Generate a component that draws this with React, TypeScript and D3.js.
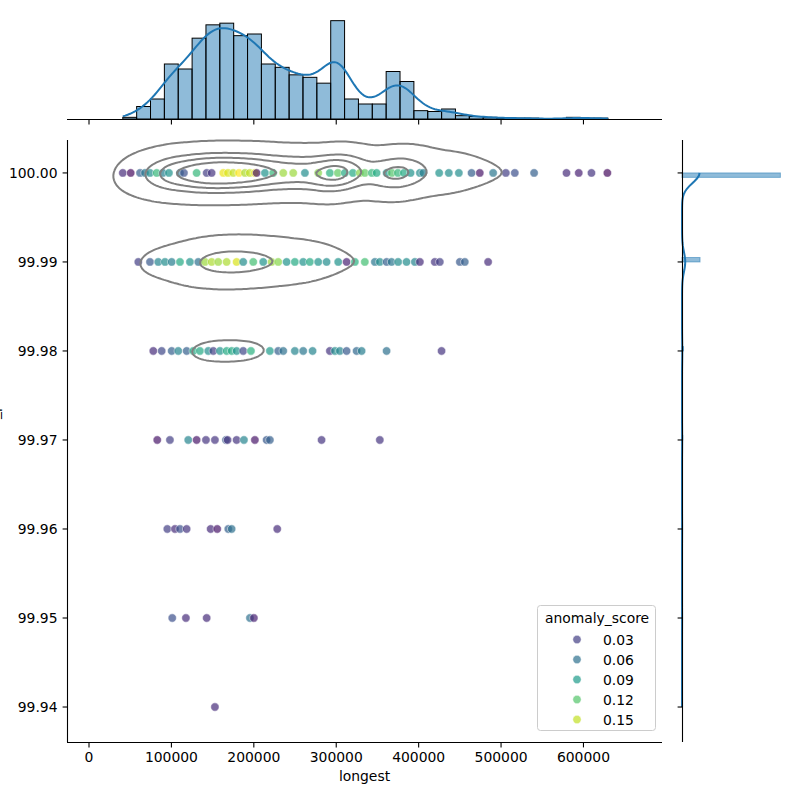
import React, { useEffect, useRef } from 'react';
import * as d3 from 'd3';

// y values that occur in the data (rows of the joint plot)
const yLevels = [100.0, 99.99, 99.98, 99.97, 99.96, 99.95, 99.94];

// range of "longest", split into 35 histogram bins
const longestMin = 41000;
const longestMax = 629700;

// counts per longest-bin, one array per y level (missing = 0)
const counts100 = [20, 135, 198, 588, 494, 772, 828, 826, 708, 738, 472, 476, 426, 416, 390, 1156, 227, 168, 164, 556, 442, 95, 83, 115, 35, 30, 15, 10, 10, 10, 0, 0, 20, 10, 10];
const counts9999 = [0, 15, 30, 40, 70, 170, 240, 280, 260, 240, 170, 130, 100, 80, 30, 20, 10, 10, 10, 12, 8, 5, 5, 5, 5, 0, 5];
const counts9998 = [0, 0, 4, 4, 8, 20, 22, 22, 22, 20, 10, 6, 4, 4, 4, 4, 3, 2, 0, 2, 0, 0, 2];
const counts9997 = [0, 0, 8, 8, 8, 8, 10, 10, 10, 6, 8, 0, 0, 0, 6, 0, 0, 0, 6];
const counts9996 = [0, 0, 0, 12, 12, 0, 12, 12, 0, 0, 0, 8];
const counts9995 = [0, 0, 0, 8, 8, 0, 8, 0, 0, 16];
const counts9994 = [0, 0, 0, 0, 0, 0, 10];

// visible scatter points per row: [longest, anomaly_score]
const pts100 = [
  [41000, 0.02], [50600, 0.005], [61900, 0.05], [67900, 0.065], [74000, 0.08], [82100, 0.11], [89700, 0.07],
  [97000, 0.085], [110400, 0.06], [115200, 0.04], [130600, 0.11], [142800, 0.03], [148800, 0.025], [162900, 0.16],
  [168600, 0.155], [175000, 0.15], [182000, 0.165], [189200, 0.145], [195000, 0.15], [201300, 0.16], [203400, 0.01],
  [213500, 0.085], [223500, 0.11], [235700, 0.14], [247800, 0.14], [262000, 0.08], [278100, 0.135], [292300, 0.105],
  [302000, 0.125], [310500, 0.1], [320200, 0.1], [328700, 0.135], [334700, 0.125], [343200, 0.11], [349000, 0.1],
  [361100, 0.085], [367500, 0.12], [374800, 0.11], [382100, 0.1], [390200, 0.085], [401500, 0.08], [405500, 0.07],
  [424900, 0.085], [436600, 0.08], [448800, 0.08], [464200, 0.05], [474200, 0.01], [490400, 0.065], [505800, 0.03],
  [516700, 0.04], [540100, 0.05], [579400, 0.02], [594300, 0.015], [609700, 0.025], [629000, 0.005],
];
const pts9999 = [
  [59800, 0.03], [74000, 0.045], [84000, 0.075], [92200, 0.08], [100300, 0.07], [110400, 0.1], [122500, 0.085],
  [132600, 0.06], [140700, 0.14], [148800, 0.145], [156800, 0.14], [167000, 0.145], [179100, 0.155], [187100, 0.08],
  [199300, 0.115], [211400, 0.085], [221600, 0.14], [229600, 0.135], [239800, 0.085], [249800, 0.1], [259900, 0.085],
  [268000, 0.1], [278100, 0.085], [288300, 0.08], [302400, 0.085], [312600, 0.015], [322600, 0.105], [334700, 0.115],
  [346900, 0.065], [352900, 0.08], [361100, 0.05], [367100, 0.065], [375100, 0.08], [385300, 0.08], [395400, 0.075],
  [401500, 0.02], [419600, 0.025], [425700, 0.03], [450000, 0.045], [456000, 0.05], [484300, 0.02],
];
const pts9998 = [
  [78000, 0.02], [88200, 0.035], [100300, 0.05], [108300, 0.075], [118500, 0.05], [126500, 0.1], [134600, 0.1],
  [144700, 0.08], [150800, 0.03], [158900, 0.085], [167000, 0.1], [173100, 0.1], [179100, 0.085], [187100, 0.035],
  [196500, 0.105], [219500, 0.09], [229600, 0.05], [235700, 0.06], [249800, 0.075], [259900, 0.065], [271300, 0.075],
  [292300, 0.025], [298400, 0.08], [304400, 0.075], [312600, 0.045], [324700, 0.055], [330800, 0.07], [361100, 0.06],
  [427800, 0.025],
];
const pts9997 = [
  [82800, 0.01], [98200, 0.03], [120400, 0.075], [130600, 0.01], [141900, 0.025], [152800, 0.025], [166200, 0.045],
  [168200, 0.025], [179100, 0.025], [188000, 0.075], [201300, 0.01], [215500, 0.045], [219500, 0.05], [282200, 0.025],
  [352900, 0.025],
];
const pts9996 = [
  [95000, 0.03], [104300, 0.02], [110400, 0.04], [118500, 0.025], [147600, 0.02], [155600, 0.01], [169000, 0.05],
  [173100, 0.06], [228400, 0.02],
];
const pts9995 = [[101000, 0.04], [117600, 0.02], [142800, 0.02], [195300, 0.06], [200100, 0.015]];
const pts9994 = [[152800, 0.02]];

const legendScores = [0.03, 0.06, 0.09, 0.12, 0.15];
const xTicks = [0, 100000, 200000, 300000, 400000, 500000, 600000];
const yTicks = [99.94, 99.95, 99.96, 99.97, 99.98, 99.99, 100.0];

const FONT = 'DejaVu Sans, sans-serif';
const FS = 13.9;
const BLUE = '#1f77b4';
const MARGINAL_BW_ADJUST = 1.2;

export default function App() {
  const ref = useRef<SVGSVGElement | null>(null);

  useEffect(() => {
    const svg = d3.select(ref.current);
    svg.selectAll('*').remove();

    const rows = [counts100, counts9999, counts9998, counts9997, counts9996, counts9995, counts9994];
    const points = [pts100, pts9999, pts9998, pts9997, pts9996, pts9995, pts9994];
    const nBins = counts100.length;
    const binW = (longestMax - longestMin) / nBins;
    const centers = d3.range(nBins).map((k) => longestMin + (k + 0.5) * binW);
    const colTotals = centers.map((_, k) => d3.sum(rows, (r) => r[k] || 0));
    const rowTotals = rows.map((r) => d3.sum(r));

    const samples: { x: number; y: number; w: number }[] = [];
    rows.forEach((r, ri) =>
      centers.forEach((c, k) => {
        const w = r[k] || 0;
        if (w > 0) samples.push({ x: c, y: yLevels[ri], w });
      })
    );
    const n = d3.sum(samples, (s) => s.w);
    const mx = d3.sum(samples, (s) => s.w * s.x) / n;
    const my = d3.sum(samples, (s) => s.w * s.y) / n;
    const cxx = d3.sum(samples, (s) => s.w * (s.x - mx) ** 2) / n;
    const cyy = d3.sum(samples, (s) => s.w * (s.y - my) ** 2) / n;
    const cxy = d3.sum(samples, (s) => s.w * (s.x - mx) * (s.y - my)) / n;

    // scales
    const x = d3.scaleLinear().domain([-26700, 695300]).range([67, 662]);
    const y = d3.scaleLinear().domain([99.93607, 100.0037]).range([742, 140]);
    const yTop = d3.scaleLinear().domain([0, 1428]).range([119, 0]);
    const xRight = d3.scaleLinear().domain([0, 12873]).range([682, 801]);
    const color = d3.scaleSequential(d3.interpolateViridis).domain([0, 0.165]);

    // ---- 2D KDE (scott) for the contour lines
    const f2 = Math.pow(n, -1 / 6);
    const kxx = cxx * f2 * f2, kyy = cyy * f2 * f2, kxy = cxy * f2 * f2;
    const det = kxx * kyy - kxy * kxy;
    const ixx = kyy / det, iyy = kxx / det, ixy = -kxy / det;
    const nx = 240, ny = 240;
    const [x0, x1] = x.domain();
    const [y0, y1] = y.domain();
    const dx = (x1 - x0) / (nx - 1);
    const dy = (y1 - y0) / (ny - 1);
    const values: number[] = new Array(nx * ny).fill(0);
    for (const s of samples) {
      for (let j = 0; j < ny; j++) {
        const ey = y1 - j * dy - s.y;
        const qy = iyy * ey * ey;
        if (qy > 40) continue;
        for (let i = 0; i < nx; i++) {
          const ex = x0 + i * dx - s.x;
          const q = ixx * ex * ex + 2 * ixy * ex * ey + qy;
          if (q < 40) values[i + j * nx] += s.w * Math.exp(-0.5 * q);
        }
      }
    }
    const sorted = values.slice().sort((a, b) => b - a);
    const total = d3.sum(sorted);
    let cum = 0;
    const normed = sorted.map((v) => (cum += v) / total);
    const isoProps = [0.05, 0.2875, 0.525, 0.7625];
    const levels = isoProps.map((p) => sorted[Math.min(d3.bisectLeft(normed, 1 - p), sorted.length - 1)]);
    const contours = d3.contours().size([nx, ny]).thresholds(levels)(values);
    const gx = (c: number) => x(x0 + (c - 0.5) * dx);
    const gy = (c: number) => y(y1 - (c - 0.5) * dy);
    const contourPath = (mp: any) =>
      mp.coordinates
        .map((poly: number[][][]) =>
          poly.map((ring) => 'M' + ring.map((p) => `${gx(p[0]).toFixed(2)},${gy(p[1]).toFixed(2)}`).join('L') + 'Z').join('')
        )
        .join('');

    // ---- 1D KDEs for the marginals
    const f1 = Math.pow(n, -1 / 5) * MARGINAL_BW_ADJUST;
    const hx = Math.sqrt(cxx) * f1;
    const hy = Math.sqrt(cyy) * f1;
    const phi = (u: number) => Math.exp(-0.5 * u * u) / Math.sqrt(2 * Math.PI);
    const kdeX = d3.range(200).map((i) => {
      const v = longestMin + (i * (longestMax - longestMin)) / 199;
      return [v, d3.sum(centers, (c, k) => colTotals[k] * phi((v - c) / hx)) / hx * binW];
    });
    const yBins = 120;
    const yMin = d3.min(yLevels) as number;
    const yMax = d3.max(yLevels) as number;
    const yBinW = (yMax - yMin) / yBins;
    const kdeY = d3.range(200).map((i) => {
      const v = yMin + (i * (yMax - yMin)) / 199;
      return [v, d3.sum(yLevels, (lv, r) => rowTotals[r] * phi((v - lv) / hy)) / hy * yBinW];
    });

    const g = svg.append('g').style('font-family', FONT).style('font-size', `${FS}px`);

    // ---- top marginal histogram
    g.append('g')
      .selectAll('rect')
      .data(colTotals)
      .join('rect')
      .attr('x', (_, k) => x(longestMin + k * binW))
      .attr('width', (_, k) => x(longestMin + (k + 1) * binW) - x(longestMin + k * binW))
      .attr('y', (d) => yTop(d))
      .attr('height', (d) => yTop(0) - yTop(d))
      .attr('fill', BLUE)
      .attr('fill-opacity', 0.5)
      .attr('stroke', '#000')
      .attr('stroke-width', 1);
    g.append('path')
      .attr('d', d3.line().x((d) => x(d[0])).y((d) => yTop(d[1]))(kdeX as [number, number][]))
      .attr('fill', 'none')
      .attr('stroke', BLUE)
      .attr('stroke-width', 2);
    g.append('line').attr('x1', 67).attr('x2', 662).attr('y1', 119.5).attr('y2', 119.5).attr('stroke', '#000').attr('stroke-width', 1.1);
    g.append('g')
      .selectAll('line')
      .data(xTicks)
      .join('line')
      .attr('x1', (d) => x(d)).attr('x2', (d) => x(d))
      .attr('y1', 119.5).attr('y2', 124.4)
      .attr('stroke', '#000').attr('stroke-width', 1.1);

    // ---- right marginal histogram
    const yBinIndex = (v: number) => Math.min(yBins - 1, Math.floor((v - yMin) / yBinW + 1e-6));
    g.append('g')
      .selectAll('rect')
      .data(rowTotals)
      .join('rect')
      .attr('y', (_, r) => y(yMin + (yBinIndex(yLevels[r]) + 1) * yBinW))
      .attr('height', (_, r) => y(yMin + yBinIndex(yLevels[r]) * yBinW) - y(yMin + (yBinIndex(yLevels[r]) + 1) * yBinW))
      .attr('x', xRight(0))
      .attr('width', (d) => xRight(d) - xRight(0))
      .attr('fill', BLUE)
      .attr('fill-opacity', 0.5)
      .attr('stroke', BLUE)
      .attr('stroke-opacity', 0.5)
      .attr('stroke-width', 1);
    g.append('path')
      .attr('d', d3.line().x((d) => xRight(d[1])).y((d) => y(d[0]))(kdeY as [number, number][]))
      .attr('fill', 'none')
      .attr('stroke', BLUE)
      .attr('stroke-width', 2);
    g.append('line').attr('x1', 682.5).attr('x2', 682.5).attr('y1', 140).attr('y2', 742).attr('stroke', '#000').attr('stroke-width', 1.1);
    g.append('g')
      .selectAll('line')
      .data(yTicks)
      .join('line')
      .attr('x1', 677.6).attr('x2', 682.5)
      .attr('y1', (d) => y(d)).attr('y2', (d) => y(d))
      .attr('stroke', '#000').attr('stroke-width', 1.1);

    // ---- scatter
    const sc = g.append('g');
    points.forEach((pts, r) => {
      sc.append('g')
        .selectAll('circle')
        .data(pts)
        .join('circle')
        .attr('cx', (d) => x(d[0]))
        .attr('cy', y(yLevels[r]))
        .attr('r', 4.17)
        .attr('fill', (d) => color(d[1]))
        .attr('fill-opacity', 0.7)
        .attr('stroke', '#fff')
        .attr('stroke-opacity', 0.7)
        .attr('stroke-width', 0.7);
    });

    // ---- contour lines
    g.append('g')
      .selectAll('path')
      .data(contours)
      .join('path')
      .attr('d', (d) => contourPath(d))
      .attr('fill', 'none')
      .attr('stroke', 'gray')
      .attr('stroke-width', 2)
      .attr('stroke-linejoin', 'round');

    // ---- main axes
    g.append('line').attr('x1', 67.5).attr('x2', 67.5).attr('y1', 140).attr('y2', 742).attr('stroke', '#000').attr('stroke-width', 1.1);
    g.append('line').attr('x1', 67).attr('x2', 662).attr('y1', 742.5).attr('y2', 742.5).attr('stroke', '#000').attr('stroke-width', 1.1);
    const xt = g.append('g').selectAll('g').data(xTicks).join('g').attr('transform', (d) => `translate(${x(d)},0)`);
    xt.append('line').attr('y1', 742.5).attr('y2', 747.4).attr('stroke', '#000').attr('stroke-width', 1.1);
    xt.append('text').attr('y', 762).attr('text-anchor', 'middle').attr('fill', '#000').text((d) => String(d));
    const yt = g.append('g').selectAll('g').data(yTicks).join('g').attr('transform', (d) => `translate(0,${y(d)})`);
    yt.append('line').attr('x1', 62.6).attr('x2', 67.5).attr('stroke', '#000').attr('stroke-width', 1.1);
    yt.append('text').attr('x', 57.5).attr('y', 5).attr('text-anchor', 'end').attr('fill', '#000').text((d) => d.toFixed(2));
    g.append('text').attr('x', 364.5).attr('y', 781).attr('text-anchor', 'middle').attr('fill', '#000').text('longest');
    // y label sits mostly outside the figure, as in the original
    g.append('text')
      .attr('transform', 'translate(-0.6,441) rotate(-90)')
      .attr('text-anchor', 'middle')
      .attr('fill', '#000')
      .text('nucleotide_pct');

    // ---- legend
    const lg = g.append('g');
    lg.append('rect')
      .attr('x', 537.5).attr('y', 605.5).attr('width', 118).attr('height', 125)
      .attr('rx', 3)
      .attr('fill', '#fff').attr('fill-opacity', 0.8)
      .attr('stroke', '#cccccc').attr('stroke-width', 1);
    lg.append('text').attr('x', 597).attr('y', 623).attr('text-anchor', 'middle').attr('fill', '#000').text('anomaly_score');
    const li = lg.selectAll('g.item').data(legendScores).join('g').attr('transform', (_, i) => `translate(0,${639.5 + i * 20})`);
    li.append('circle')
      .attr('cx', 577).attr('cy', 0).attr('r', 4.17)
      .attr('fill', (d) => color(d)).attr('fill-opacity', 0.7)
      .attr('stroke', '#fff').attr('stroke-opacity', 0.7).attr('stroke-width', 0.7);
    li.append('text').attr('x', 603).attr('y', 5).attr('fill', '#000').text((d) => d.toFixed(2));
  }, []);

  return (
    <svg
      ref={ref}
      width={800}
      height={800}
      style={{ position: 'absolute', left: 0, top: 0, background: '#fff', display: 'block' }}
    />
  );
}
